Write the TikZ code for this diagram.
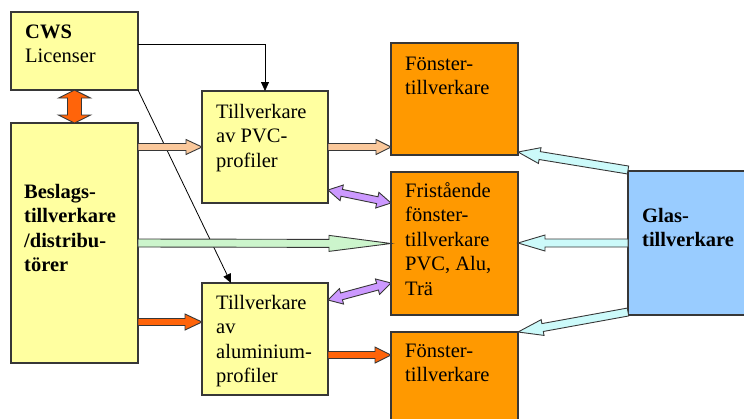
\documentclass[tikz,border=0pt]{standalone}
\usepackage{fontspec}
\setmainfont{Liberation Serif}
\usetikzlibrary{calc,arrows.meta}

\definecolor{boxyellow}{RGB}{255,255,160}
\definecolor{boxorange}{RGB}{255,153,0}
\definecolor{boxblue}{RGB}{153,204,255}
\definecolor{edgegray}{RGB}{55,55,55}
\definecolor{arrpeach}{RGB}{250,200,155}
\definecolor{arrgreen}{RGB}{204,245,204}
\definecolor{arrred}{RGB}{255,100,10}
\definecolor{arrpurple}{RGB}{204,153,255}
\definecolor{arrcyan}{RGB}{204,250,250}

% multi-line text whose baseline is that of its first line
\newcommand\lines[1]{\begin{tabular}[t]{@{}l@{}}#1\end{tabular}}

% single block arrow: style, from, to, shaft half width, head half width, head length
\newcommand\blockarrow[6]{%
  \coordinate (ba-a) at (#2);
  \coordinate (ba-b) at (#3);
  \coordinate (ba-c) at ($(ba-b)!#6!(ba-a)$);
  \draw[#1] ($(ba-a)!#4!90:(ba-b)$) -- ($(ba-c)!#4!90:(ba-b)$)
    -- ($(ba-c)!#5!90:(ba-b)$) -- (ba-b) -- ($(ba-c)!#5!-90:(ba-b)$)
    -- ($(ba-c)!#4!-90:(ba-b)$) -- ($(ba-a)!#4!-90:(ba-b)$) -- cycle;
}
% double-headed block arrow, same arguments
\newcommand\dblockarrow[6]{%
  \coordinate (ba-a) at (#2);
  \coordinate (ba-b) at (#3);
  \coordinate (ba-c) at ($(ba-a)!#6!(ba-b)$);
  \coordinate (ba-d) at ($(ba-b)!#6!(ba-a)$);
  \draw[#1] (ba-a) -- ($(ba-c)!#5!90:(ba-b)$) -- ($(ba-c)!#4!90:(ba-b)$)
    -- ($(ba-d)!#4!90:(ba-b)$) -- ($(ba-d)!#5!90:(ba-b)$) -- (ba-b)
    -- ($(ba-d)!#5!-90:(ba-b)$) -- ($(ba-d)!#4!-90:(ba-b)$)
    -- ($(ba-c)!#4!-90:(ba-b)$) -- ($(ba-c)!#5!-90:(ba-b)$) -- cycle;
}

\tikzset{
  box/.style={draw=edgegray, line width=1.3pt, inner sep=0pt, outer sep=0pt},
  ybox/.style={box, fill=boxyellow},
  obox/.style={box, fill=boxorange},
  bbox/.style={box, fill=boxblue},
  txt/.style={anchor=base west, inner sep=0pt, font=\fontsize{20.5}{24.6}\selectfont},
  btxt/.style={txt, font=\fontsize{20.5}{24.6}\selectfont\bfseries},
  barrow/.style={draw=edgegray, line width=0.9pt, line join=miter, fill=#1},
  link/.style={draw=black, line width=0.8pt, -{Triangle[length=9pt,width=8pt]}},
}

\begin{document}
\begin{tikzpicture}[x=1pt, y=-1pt]
\useasboundingbox (0,0) rectangle (744,418);

% boxes
\node[ybox, minimum width=127pt, minimum height=78pt]  (cws)  at (74.5,51)  {};
\node[ybox, minimum width=127pt, minimum height=240pt] (bes)  at (74.5,243) {};
\node[ybox, minimum width=126pt, minimum height=112pt] (pvc)  at (265,147)  {};
\node[ybox, minimum width=126pt, minimum height=112pt] (alu)  at (265,339)  {};
\node[obox, minimum width=127pt, minimum height=112pt] (ft)   at (454.5,99) {};
\node[obox, minimum width=127pt, minimum height=143pt] (fri)  at (454.5,243.5) {};
\node[obox, minimum width=127pt, minimum height=112pt] (fb)   at (454.5,388) {};
\node[bbox, minimum width=132pt, minimum height=144pt] (glas) at (694,243)  {};

% texts
\node[txt] (cwsT) at ([xshift=14pt,yshift=-26pt]cws.north west)
  {\lines{\textbf{CWS}\\Licenser}};
\node[btxt] (besT) at ([xshift=13pt,yshift=-75pt]bes.north west)
  {\lines{Beslags-\\tillverkare\\/distribu-\\törer}};
\node[txt] (pvcT) at ([xshift=14pt,yshift=-27pt]pvc.north west)
  {\lines{Tillverkare\\av PVC-\\profiler}};
\node[txt] (aluT) at ([xshift=14pt,yshift=-26pt]alu.north west)
  {\lines{Tillverkare\\av\\aluminium-\\profiler}};
\node[txt] (ftT) at ([xshift=14pt,yshift=-27pt]ft.north west)
  {\lines{Fönster-\\tillverkare}};
\node[txt] (friT) at ([xshift=14pt,yshift=-25pt]fri.north west)
  {\lines{Fristående\\fönster-\\tillverkare\\PVC, Alu,\\Trä}};
\node[txt] (fbT) at ([xshift=14pt,yshift=-25pt]fb.north west)
  {\lines{Fönster-\\tillverkare}};
\node[btxt] (glasT) at ([xshift=14pt,yshift=-51pt]glas.north west)
  {\lines{Glas-\\tillverkare}};

% thin connectors from CWS
\draw[link] ([yshift=7pt]cws.east) -| (pvc.north);
\draw[link] (cws.south east) -- ([xshift=-34pt]alu.north);

% arrow end points off the box centres
\coordinate (aluIn)   at ([yshift=17pt]alu.west);
\coordinate (aluOut)  at ([yshift=-16pt]alu.east);
\coordinate (pvcSide) at ([yshift=13pt]pvc.south east);
\coordinate (friTop)  at ([yshift=-31pt]fri.north west);
\coordinate (aluSide) at ([yshift=-17pt]alu.north east);
\coordinate (friBot)  at ([yshift=32pt]fri.south west);
\coordinate (glasTop) at ([yshift=1pt]glas.north west);
\coordinate (ftCorner) at ([yshift=3pt]ft.south east);
\coordinate (glasBot) at ([yshift=3pt]glas.south west);

% block arrows
\dblockarrow{barrow=arrred}{cws.south}{bes.north}{7pt}{16pt}{8pt}

\blockarrow{barrow=arrpeach}{bes.east |- pvc.west}{pvc.west}{3.5pt}{7.5pt}{16pt}
\blockarrow{barrow=arrpeach}{pvc.east}{ft.west |- pvc.east}{3.5pt}{7.5pt}{15pt}

\blockarrow{barrow=arrgreen}{bes.east}{fri.west}{4pt}{8pt}{62pt}

\blockarrow{barrow=arrred}{bes.east |- aluIn}{aluIn}{3.5pt}{8pt}{17pt}
\blockarrow{barrow=arrred}{aluOut}{fb.west |- aluOut}{3.5pt}{8pt}{16pt}

\dblockarrow{barrow=arrpurple}{pvcSide}{friTop}{3.5pt}{8pt}{14pt}
\dblockarrow{barrow=arrpurple}{aluSide}{friBot}{3.5pt}{8pt}{14pt}

\blockarrow{barrow=arrcyan}{glasTop}{ftCorner}{4pt}{8pt}{22pt}
\blockarrow{barrow=arrcyan}{glas.west}{fri.east |- glas.west}{4pt}{8pt}{27pt}
\blockarrow{barrow=arrcyan}{glasBot}{fb.north east}{4pt}{8pt}{25pt}
\end{tikzpicture}
\end{document}
